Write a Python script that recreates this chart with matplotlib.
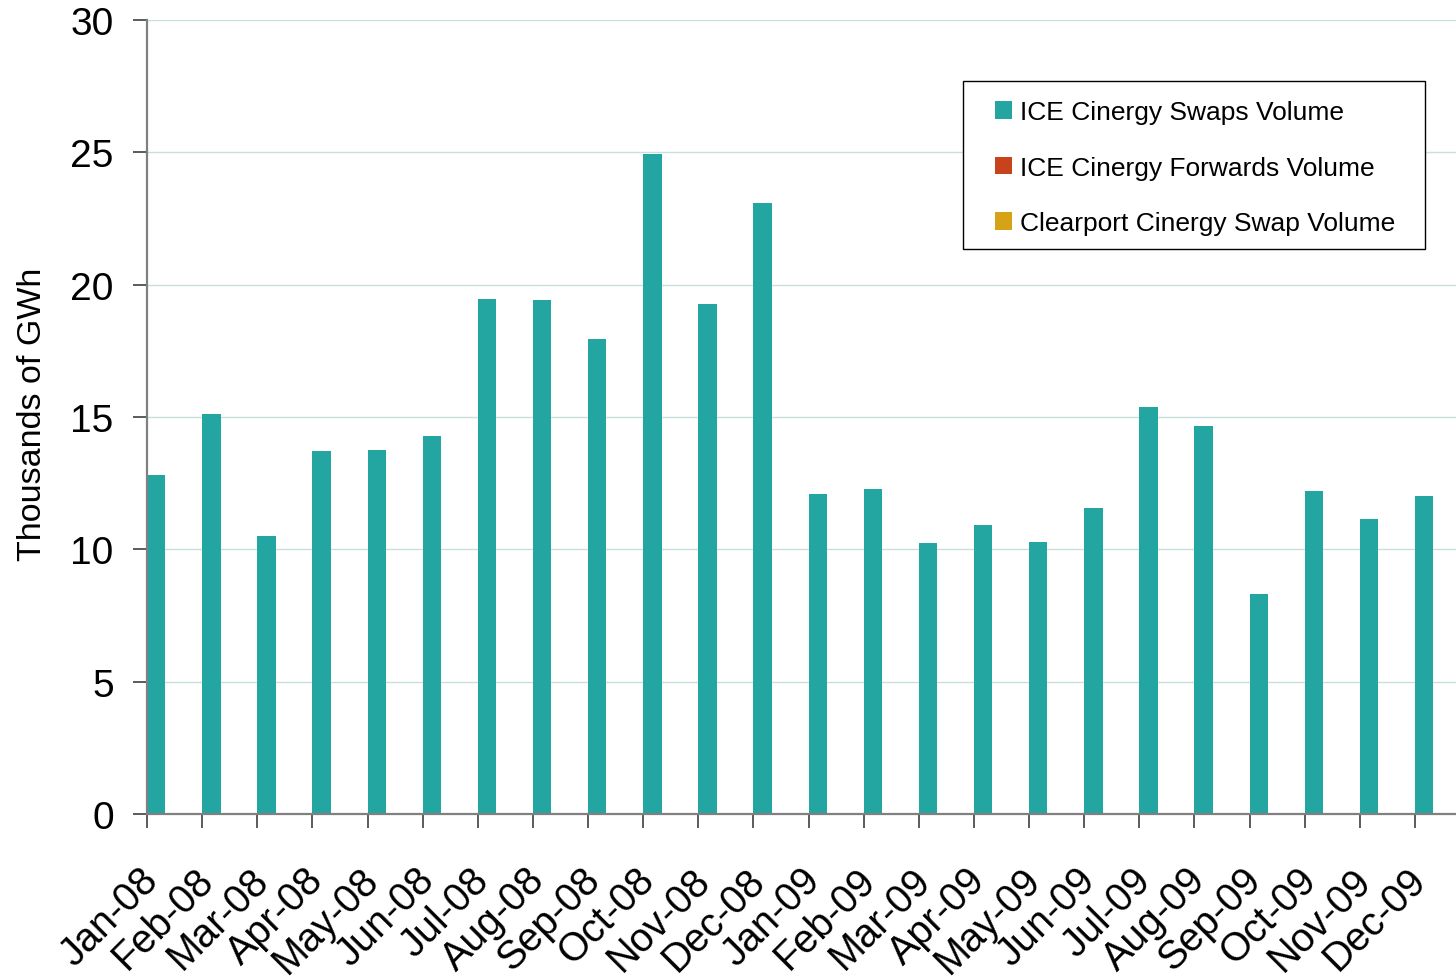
import matplotlib
matplotlib.use("Agg")
import matplotlib.pyplot as plt
import matplotlib.transforms as mtransforms
from matplotlib.patches import Rectangle, Patch
import numpy as np

months = ["Jan-08", "Feb-08", "Mar-08", "Apr-08", "May-08", "Jun-08", "Jul-08", "Aug-08",
          "Sep-08", "Oct-08", "Nov-08", "Dec-08", "Jan-09", "Feb-09", "Mar-09", "Apr-09",
          "May-09", "Jun-09", "Jul-09", "Aug-09", "Sep-09", "Oct-09", "Nov-09", "Dec-09"]
ice_swaps = [12.81, 15.11, 10.50, 13.71, 13.75, 14.28, 19.46, 19.42, 17.95, 24.93, 19.27, 23.08,
             12.09, 12.28, 10.24, 10.92, 10.28, 11.56, 15.38, 14.66, 8.31, 12.20, 11.14, 12.01]
ice_forwards = [0.0] * 24
clearport_swaps = [0.0] * 24
series_names = ["ICE Cinergy Swaps Volume", "ICE Cinergy Forwards Volume",
                "Clearport Cinergy Swap Volume"]
colors = ["#23A6A1", "#C8421B", "#D6A216"]
y_ticks = [0, 5, 10, 15, 20, 25, 30]

plt.rcParams['font.family'] = ['Liberation Sans', 'DejaVu Sans']

W, H = 1456, 979
fig = plt.figure(figsize=(W / 100, H / 100), dpi=100)
ax_left, ax_right, ax_top, ax_bottom = 147, 1470, 21, 815
ax = fig.add_axes([ax_left / W, 1 - ax_bottom / H, (ax_right - ax_left) / W, (ax_bottom - ax_top) / H])

x = np.arange(len(months))
bw = 1 / 3
data = [ice_swaps, ice_forwards, clearport_swaps]
for k, (vals, c, name) in enumerate(zip(data, colors, series_names)):
    ax.bar(x - 0.5 + k * bw, vals, width=bw, align='edge', color=c, label=name, zorder=3)

ax.set_xlim(-0.5, len(months) - 0.5)
ax.set_ylim(0, 30)
ax.set_yticks(y_ticks)
ax.set_yticklabels([str(v) for v in y_ticks], fontsize=28)
ax.yaxis.grid(True, color="#C8E0DC", linewidth=1.0, zorder=0)
ax.set_axisbelow(True)

for s in ["top", "right"]:
    ax.spines[s].set_visible(False)
for s in ["left", "bottom"]:
    ax.spines[s].set_color("#808080")
    ax.spines[s].set_linewidth(1.6)
    ax.spines[s].set_zorder(4)

ax.tick_params(axis='y', direction='out', length=10, width=1.2, color="#404040", pad=14)

# x: major ticks at category boundaries, labels at centres
ax.set_xticks(x - 0.5)
ax.set_xticklabels([])
ax.tick_params(axis='x', which='major', direction='out', length=10, width=1.2, color="#404040")
ax.set_xticks(x, minor=True)
ax.set_xticklabels(months, minor=True, fontsize=28.5, rotation=45, ha='right', va='center',
                   rotation_mode='anchor')
ax.tick_params(axis='x', which='minor', length=0, pad=43)
offset = mtransforms.ScaledTranslation(-22 / 100, 0, fig.dpi_scale_trans)
for lab in ax.xaxis.get_minorticklabels():
    lab.set_transform(lab.get_transform() + offset)

ax.set_ylabel("Thousands of GWh", fontsize=24.5)
ax.yaxis.set_label_coords(-0.075, 0.505)

# legend frame
rect = Rectangle((963 / W, 1 - 250 / H), (1425 - 963) / W, (250 - 82) / H,
                 transform=fig.transFigure, facecolor='white', edgecolor='black',
                 linewidth=1.0, zorder=5)
fig.patches.append(rect)
handles = [Patch(facecolor=c, edgecolor='none') for c in colors]
leg = fig.legend(handles, series_names, loc='upper left',
                 bbox_to_anchor=(995 / W, 1 - 101 / H), frameon=False, fontsize=19,
                 handlelength=0.65, handleheight=0.65, handletextpad=0.3,
                 labelspacing=1.2, borderpad=0, borderaxespad=0)
leg.set_zorder(6)

fig.savefig("out.png", dpi=100)
